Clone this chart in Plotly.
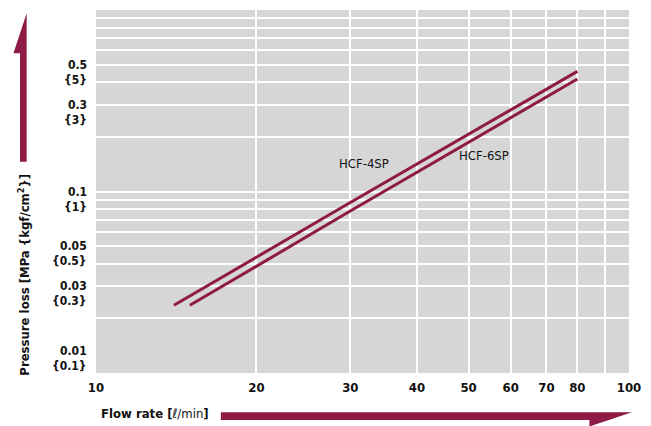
import math
import plotly.graph_objects as go

# ---- data ----
flow_4sp = [14, 30, 80]
loss_4sp = [0.0236, 0.087, 0.459]
flow_6sp = [15, 30, 80]
loss_6sp = [0.0236, 0.078, 0.417]
series_names = ["HCF-4SP", "HCF-6SP"]

x_ticks = [10, 20, 30, 40, 50, 60, 70, 80, 100]
x_ticktext = ["10", "20", "30", "40", "50", "60", "70", "80", "100"]
x_minor_grid = [90]
y_grid = [0.01, 0.02, 0.03, 0.04, 0.05, 0.06, 0.07, 0.08, 0.09,
          0.1, 0.2, 0.3, 0.4, 0.5, 0.6, 0.7, 0.8, 0.9, 1.0]
y_label_vals = [0.5, 0.3, 0.1, 0.05, 0.03, 0.01]
y_label_main = ["0.5", "0.3", "0.1", "0.05", "0.03", "0.01"]
y_label_sub = ["{5}", "{3}", "{1}", "{0.5}", "{0.3}", "{0.1}"]

W, H = 651, 426
L, R, T, B = 96, 17, 10, 53
PW, PH = W - L - R, H - T - B
LINE_COLOR = "#8e1a46"
FONT = "DejaVu Sans Condensed, Liberation Sans Narrow, Arial Narrow, sans-serif"


def px(x):
    return (x - L) / PW


def py(y):
    return (H - B - y) / PH


fig = go.Figure()
fig.add_trace(go.Scatter(x=flow_4sp, y=loss_4sp, mode="lines", name=series_names[0],
                         line=dict(color=LINE_COLOR, width=3), showlegend=False))
fig.add_trace(go.Scatter(x=flow_6sp, y=loss_6sp, mode="lines", name=series_names[1],
                         line=dict(color=LINE_COLOR, width=3), showlegend=False))

annotations = []
for v, m, s in zip(y_label_vals, y_label_main, y_label_sub):
    shift = 22 if v == 0.01 else 0
    annotations.append(dict(x=0, xref="paper", y=math.log10(v), yref="y", text="<b>" + m + "</b>",
                            xanchor="right", yanchor="middle", xshift=-7, yshift=shift,
                            showarrow=False, font=dict(family=FONT, size=12, color="#111")))
    annotations.append(dict(x=0, xref="paper", y=math.log10(v), yref="y", text="<b>" + s + "</b>",
                            xanchor="right", yanchor="middle", xshift=-7, yshift=shift - 15,
                            showarrow=False, font=dict(family=FONT, size=12, color="#111")))

annotations.append(dict(x=px(366.7), y=py(164), xref="paper", yref="paper", text=series_names[0],
                        xanchor="center", yanchor="middle",
                        showarrow=False, font=dict(family=FONT, size=13, color="#111")))
annotations.append(dict(x=px(487.5), y=py(156), xref="paper", yref="paper", text=series_names[1],
                        xanchor="center", yanchor="middle",
                        showarrow=False, font=dict(family=FONT, size=13, color="#111")))

annotations.append(dict(x=px(23), y=py(275), xref="paper", yref="paper", textangle=-90,
                        xanchor="center", yanchor="middle",
                        text="<b>Pressure loss [MPa {kgf/cm<sup>2</sup>}]</b>",
                        showarrow=False, font=dict(family=FONT, size=13, color="#111")))
annotations.append(dict(x=px(99), y=py(414), xref="paper", yref="paper", xanchor="left",
                        yanchor="middle",
                        text="<b>Flow rate [</b>ℓ/min<b>]</b>",
                        showarrow=False, font=dict(family=FONT, size=13, color="#111")))


def path(points):
    return "M " + " L ".join(f"{px(a):.5f},{py(b):.5f}" for a, b in points) + " Z"


shapes = [
    dict(type="path", xref="paper", yref="paper", fillcolor=LINE_COLOR, line=dict(width=0),
         path=path([(19.3, 161.7), (19.3, 53.3), (12.7, 53.3), (26, 13.3), (26, 161.7)])),
    dict(type="path", xref="paper", yref="paper", fillcolor=LINE_COLOR, line=dict(width=0),
         path=path([(222, 412.3), (637, 412.3), (594, 426.5), (594, 420), (222, 420)])),
]

fig.update_layout(
    width=W, height=H,
    margin=dict(l=L, r=R, t=T, b=B, pad=0),
    paper_bgcolor="white",
    plot_bgcolor="#d6d6d6",
    annotations=annotations,
    shapes=shapes,
    xaxis=dict(type="log", range=[1, 2], tickvals=x_ticks,
               ticktext=["<b>" + t + "</b>" for t in x_ticktext],
               showgrid=True, gridcolor="white", gridwidth=2, zeroline=False,
               minor=dict(tickvals=x_minor_grid, showgrid=True, gridcolor="white", gridwidth=2, ticks=""),
               showline=False, ticks="", ticklabelstandoff=5,
               tickfont=dict(family=FONT, size=13, color="#111"), fixedrange=True),
    yaxis=dict(type="log", range=[-2, 0], tickvals=y_grid, showticklabels=False,
               showgrid=True, gridcolor="white", gridwidth=2, zeroline=False,
               showline=False, ticks="", fixedrange=True),
)

fig.write_html("out.html", config={"displayModeBar": False},
               post_script="document.body.style.margin='0';document.body.style.overflow='hidden';")
